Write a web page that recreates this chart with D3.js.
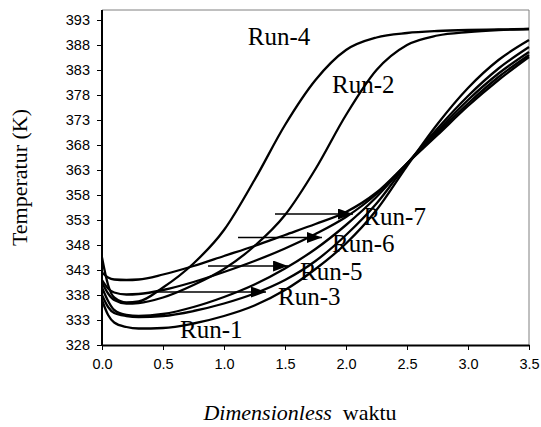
<!DOCTYPE html>
<html>
<head>
<meta charset="utf-8">
<script src="https://cdn.jsdelivr.net/npm/d3@7"></script>
<style>
  html, body { margin: 0; padding: 0; background: #fff; }
  svg { display: block; }
</style>
</head>
<body>
<svg id="chart" width="541" height="427"></svg>
<script>
// ---------- data ----------
const timeValues = [0, 0.05, 0.1, 0.2, 0.3, 0.5, 0.75, 1.0, 1.25, 1.5, 1.75, 2.0, 2.25, 2.5, 2.75, 3.0, 3.25, 3.5];

const run1 = [337.0, 334.0, 332.5, 331.6, 331.3, 331.4, 332.3, 333.8, 335.9, 339.0, 343.2, 348.3, 355.0, 363.8, 372.2, 379.4, 385.0, 389.0];
const run2 = [340.5, 338.3, 337.0, 336.3, 336.4, 337.5, 340.0, 343.2, 347.8, 354.0, 363.2, 374.0, 383.0, 388.0, 389.9, 390.6, 391.0, 391.2];
const run3 = [338.0, 335.6, 334.4, 333.8, 333.6, 333.8, 334.8, 336.3, 338.3, 341.0, 344.8, 350.0, 356.3, 364.2, 371.3, 377.8, 383.3, 387.6];
const run4 = [345.5, 340.0, 337.5, 336.5, 336.7, 339.5, 344.3, 351.0, 361.0, 372.0, 381.0, 387.0, 389.5, 390.4, 390.8, 391.0, 391.1, 391.2];
const run5 = [339.5, 336.8, 335.0, 334.0, 333.8, 334.2, 335.6, 337.6, 340.1, 343.3, 347.2, 352.0, 357.6, 364.3, 370.8, 377.0, 382.3, 386.6];
const run6 = [341.0, 339.3, 338.5, 338.1, 338.2, 339.0, 340.6, 342.6, 344.8, 347.3, 350.2, 353.6, 358.2, 364.3, 370.4, 376.3, 381.6, 386.0];
const run7 = [342.5, 341.5, 341.1, 341.0, 341.1, 342.1, 343.8, 345.8, 347.8, 350.0, 352.2, 354.6, 358.5, 364.3, 370.0, 375.8, 381.0, 385.6];

const seriesNames = ["Run-1", "Run-2", "Run-3", "Run-4", "Run-5", "Run-6", "Run-7"];
const seriesValues = [run1, run2, run3, run4, run5, run6, run7];

const xTickValues = [0, 0.5, 1.0, 1.5, 2.0, 2.5, 3.0, 3.5];
const yTickValues = [328, 333, 338, 343, 348, 353, 358, 363, 368, 373, 378, 383, 388, 393];

const xTitleItalic = "Dimensionless";
const xTitleRest = "waktu";
const yTitle = "Temperatur (K)";

// label anchors in data units (t, K) and arrows (tStart, tTip, K)
const labelNames = ["Run-4", "Run-2", "Run-7", "Run-6", "Run-5", "Run-3", "Run-1"];
const labelT = [1.195, 1.885, 2.143, 1.885, 1.623, 1.443, 0.64];
const labelK = [388.0, 378.4, 352.0, 346.6, 341.0, 336.0, 329.4];

const arrowNames = ["Run-7", "Run-6", "Run-5", "Run-3"];
const arrowStartT = [1.418, 1.115, 0.869, 0.451];
const arrowTipT = [2.057, 1.803, 1.525, 1.344];
const arrowK = [354.2, 349.5, 343.8, 338.6];

// ---------- layout ----------
const svg = d3.select("#chart");
const plotLeft = 102, plotRight = 529, plotTop = 10, plotBottom = 345;

const x = d3.scaleLinear().domain([0, 3.5]).range([plotLeft, plotRight]);
const y = d3.scaleLinear().domain([328, 395]).range([plotBottom, plotTop]);

// frame (top & right) - grey thin
svg.append("line")
  .attr("x1", plotLeft).attr("x2", plotRight)
  .attr("y1", plotTop).attr("y2", plotTop)
  .attr("stroke", "#808080").attr("stroke-width", 1);
svg.append("line")
  .attr("x1", plotRight).attr("x2", plotRight)
  .attr("y1", plotTop).attr("y2", plotBottom)
  .attr("stroke", "#808080").attr("stroke-width", 1);

// curves
const lineGen = d3.line()
  .x((d, i) => x(timeValues[i]))
  .y(d => y(d))
  .curve(d3.curveMonotoneX);

const curves = svg.append("g").attr("class", "curves");
seriesValues.forEach((vals, k) => {
  curves.append("path")
    .datum(vals)
    .attr("d", lineGen)
    .attr("fill", "none")
    .attr("stroke", "#000")
    .attr("stroke-width", 2.3)
    .attr("stroke-linejoin", "round")
    .attr("data-name", seriesNames[k]);
});

// axes
const xAxis = d3.axisBottom(x)
  .tickValues(xTickValues)
  .tickFormat(d3.format(".1f"))
  .tickSize(5)
  .tickSizeOuter(0)
  .tickPadding(9);
const yAxis = d3.axisLeft(y)
  .tickValues(yTickValues)
  .tickFormat(d3.format("d"))
  .tickSize(5)
  .tickSizeOuter(0)
  .tickPadding(7);

const gx = svg.append("g")
  .attr("transform", `translate(0,${plotBottom})`)
  .call(xAxis);
const gy = svg.append("g")
  .attr("transform", `translate(${plotLeft},0)`)
  .call(yAxis);

[gx, gy].forEach(g => {
  g.select(".domain").attr("stroke", "#000").attr("stroke-width", 2);
  g.selectAll(".tick line").attr("stroke", "#000").attr("stroke-width", 1);
  g.selectAll(".tick text")
    .attr("fill", "#000")
    .style("font-family", "'Liberation Sans', Arial, sans-serif")
    .style("font-size", "14.5px");
});
// the y domain line should span the full plot height
gy.select(".domain").attr("d", `M0,${plotBottom}V${plotTop}`);

// arrows
const defs = svg.append("defs");
defs.append("marker")
  .attr("id", "arrowHead")
  .attr("viewBox", "0 0 15 11")
  .attr("refX", 15).attr("refY", 5.5)
  .attr("markerWidth", 15).attr("markerHeight", 11)
  .attr("markerUnits", "userSpaceOnUse")
  .attr("orient", "auto")
  .append("path")
  .attr("d", "M0,0L15,5.5L0,11Z")
  .attr("fill", "#000");

arrowNames.forEach((n, i) => {
  svg.append("line")
    .attr("x1", x(arrowStartT[i])).attr("x2", x(arrowTipT[i]))
    .attr("y1", y(arrowK[i])).attr("y2", y(arrowK[i]))
    .attr("stroke", "#000").attr("stroke-width", 1.5)
    .attr("marker-end", "url(#arrowHead)");
});

// run labels
labelNames.forEach((n, i) => {
  svg.append("text")
    .attr("x", x(labelT[i]))
    .attr("y", y(labelK[i]))
    .attr("text-anchor", "start")
    .style("font-family", "'Liberation Serif', 'Times New Roman', serif")
    .style("font-size", "25px")
    .attr("fill", "#000")
    .text(n);
});

// axis titles
const xt = svg.append("text")
  .attr("x", 300)
  .attr("y", 420)
  .attr("text-anchor", "middle")
  .style("font-family", "'Liberation Serif', 'Times New Roman', serif")
  .style("font-size", "22px")
  .attr("fill", "#000");
xt.append("tspan").style("font-style", "italic").text(xTitleItalic);
xt.append("tspan").text("\u00a0\u00a0" + xTitleRest);

svg.append("text")
  .attr("transform", `translate(27,${(plotTop + plotBottom) / 2}) rotate(-90)`)
  .attr("text-anchor", "middle")
  .style("font-family", "'Liberation Serif', 'Times New Roman', serif")
  .style("font-size", "22px")
  .attr("fill", "#000")
  .text(yTitle);
</script>
</body>
</html>
